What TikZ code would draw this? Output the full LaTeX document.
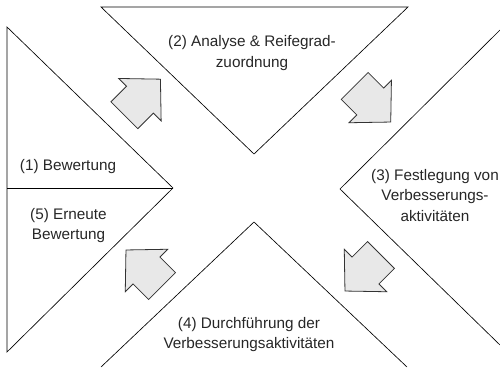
\documentclass[tikz,border=0pt]{standalone}
\usepackage{fontspec}
\setmainfont{Liberation Sans}
\begin{document}
\begin{tikzpicture}[x=1pt,y=-1pt,
  outline/.style={draw=black,line width=0.65pt,line join=miter},
  txt/.style={align=center,inner sep=0pt,anchor=north,text=black!85,
    font=\fontsize{15.3}{20.5}\selectfont},
  blockarrow/.pic={
    \path[draw=black!80,fill=black!9,line width=0.8pt,line join=miter]
      (25.5,0) -- (-3.5,30) -- (-3.5,19) -- (-25.5,19) -- (-25.5,-19)
      -- (-3.5,-19) -- (-3.5,-30) -- cycle;}]
\useasboundingbox (0,0) rectangle (500,367);

% phase shapes
\draw[outline] (7,27) -- (173,188) -- (7,352) -- cycle;
\draw[outline] (7,188) -- (173,188);
\draw[outline] (101,7) -- (408,7) -- (254,154) -- cycle;
\draw[outline] (500,30) -- (340,189) -- (500,345);
\draw[outline] (101,367) -- (254,222) -- (407,367);

% phase labels
\node[txt] (t1) at (68,159.3) {(1) Bewertung};
\node[txt] (t2) at (252,35.3) {(2) Analyse \& Reifegrad-\\zuordnung};
\node[txt] (t3) at (435,168.8) {(3) Festlegung von\\Verbesserungs-\\aktivitäten};
\node[txt] (t4) at (249,316.8) {(4) Durchführung der\\Verbesserungsaktivitäten};
\node[txt] (t5) at (68.5,208) {(5) Erneute\\Bewertung};

% cycle arrows
\pic[rotate=45] at (142.4,97.2) {blockarrow};
\pic[rotate=-45] at (372.7,104) {blockarrow};
\pic[rotate=-135] at (363,273) {blockarrow};
\pic[rotate=135] at (144,268) {blockarrow};
\end{tikzpicture}
\end{document}
